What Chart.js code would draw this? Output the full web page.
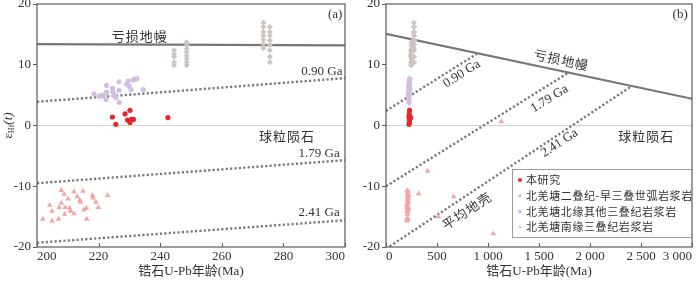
<!DOCTYPE html>
<html>
<head>
<meta charset="utf-8">
<script src="https://cdn.jsdelivr.net/npm/chart.js@4.4.0/dist/chart.umd.min.js"></script>
<style>
  html, body { margin: 0; padding: 0; background: #fff; }
  #wrap { position: relative; width: 700px; height: 281px; }
  .panel { position: absolute; top: 0; width: 350px; height: 281px; }
</style>
</head>
<body>
<div id="wrap">
  <div class="panel" style="left:0"><canvas id="chartA" width="350" height="281"></canvas></div>
  <div class="panel" style="left:350px"><canvas id="chartB" width="350" height="281"></canvas></div>
</div>
<script>
// 本研究
const studyAge = [224.5, 225.6, 228.6, 229.4, 230.2, 230.2, 230.7, 231.3, 242.5];
const studyHf  = [1.4, 0.2, 1.9, 0.9, 2.5, 0.5, 1.0, 1.0, 1.3];

// 北羌塘二叠纪-早三叠世弧岩浆岩
const arcAge = [244.5, 244.5, 244.5, 244.5, 244.5,
                248.6, 248.6, 248.6, 248.6, 248.6, 248.6, 248.6, 248.6,
                273.5, 273.5, 273.5, 273.5, 273.5, 273.5, 273.5,
                275.6, 275.6, 275.6, 275.6, 275.6, 275.6, 275.6, 275.6];
const arcHf  = [12.4, 11.7, 11.3, 10.4, 9.9,
                13.7, 13.2, 12.6, 12.1, 11.5, 11.0, 10.4, 9.9,
                16.9, 16.2, 15.4, 14.8, 14.1, 13.4, 12.7,
                16.2, 15.4, 14.8, 14.0, 13.3, 12.4, 11.3, 10.4];

// 北羌塘北缘其他三叠纪岩浆岩
const northAge = [218.5, 220.2, 220.8, 221.3, 222.3, 222.6, 222.4, 222.6, 224.5, 224.6, 225.2, 225.6,
                  226.6, 226.6, 226.7, 229.1, 229.6, 229.9, 230.5, 231.3, 231.8, 232.4, 234.5];
const northHf  = [5.2, 4.8, 4.9, 5.0, 5.2, 5.5, 4.3, 6.6, 6.1, 5.5, 5.0, 4.6,
                  7.2, 5.8, 3.8, 6.8, 7.3, 6.5, 5.9, 7.5, 7.6, 7.7, 5.9];

// 北羌塘南缘三叠纪岩浆岩
const southAge = [201.9, 204.1, 204.9, 204.9, 207.0, 207.2, 207.9, 207.9, 208.8, 209.0, 209.2, 210.1, 210.6, 210.9,
                  212.0, 212.0, 213.1, 213.9, 214.1, 214.9, 215.2, 216.0, 216.2, 218.0, 218.2, 219.1, 219.9, 222.9,
                  320, 407, 511, 662, 1052, 1131];
const southHf  = [-15.4, -13.1, -14.1, -15.7, -15.4, -13.5, -10.7, -12.8, -11.3, -14.6, -13.5, -12.1, -13.6, -14.1,
                  -10.9, -14.5, -11.7, -12.3, -12.6, -10.8, -13.9, -13.6, -15.4, -11.5, -11.9, -12.6, -13.5, -11.5,
                  -11.2, -7.5, -15.0, -11.7, -17.8, 0.65];

// reference lines (a): [age, εHf] end points
const dmA     = [[200, 13.4], [300, 13.2]];
const ga090A  = [[200, 3.9], [300, 7.8]];
const ga179A  = [[200, -9.5], [300, -5.7]];
const ga241A  = [[200, -19.3], [300, -15.6]];
const chondA  = [[200, 0], [300, 0]];

// reference lines (b)
const dmB     = [[0, 15.1], [3000, 4.4]];
const ga090B  = [[0, 2.4], [900, 11.9]];
const ga179B  = [[0, -10.0], [1790, 8.7]];
const ga241B  = [[0, -20.3], [2410, 6.5]];
const chondB  = [[0, 0], [3000, 0]];

const SERIF = "'Liberation Serif', 'Noto Sans CJK SC', serif";
const CJK = "'Noto Sans CJK SC', 'Liberation Serif', sans-serif";
const TXT = '#333';
const AXIS = '#5a5a5a';

const pts = (ages, hf) => ages.map((a, i) => ({ x: a, y: hf[i] }));
const seg = arr => arr.map(([x, y]) => ({ x, y }));

function pointSets() {
  return [
    { label: '本研究', data: pts(studyAge, studyHf), backgroundColor: '#e5282a',
      pointStyle: 'circle', pointRadius: 2.6, borderWidth: 0, order: 0 },
    { label: '北羌塘二叠纪-早三叠世弧岩浆岩', data: pts(arcAge, arcHf), backgroundColor: '#cdc5c1',
      pointStyle: 'rectRot', pointRadius: 3, borderWidth: 0, order: 1 },
    { label: '北羌塘北缘其他三叠纪岩浆岩', data: pts(northAge, northHf), backgroundColor: '#d3bfe2',
      pointStyle: 'circle', pointRadius: 2.6, borderWidth: 0, order: 1 },
    { label: '北羌塘南缘三叠纪岩浆岩', data: pts(southAge, southHf), backgroundColor: '#f6a3a3',
      pointStyle: 'triangle', pointRadius: 3.2, borderWidth: 0, order: 1 },
  ];
}

function lineSet(arr, kind) {
  const ds = { data: seg(arr), showLine: true, pointRadius: 0, fill: false, order: 5 };
  if (kind === 'dm') { ds.borderColor = '#777'; ds.borderWidth = 2.2; }
  if (kind === 'dot') { ds.borderColor = '#7a7a7a'; ds.borderWidth = 2.4; ds.borderDash = [2.2, 2.2]; ds.order = 4; }
  if (kind === 'chond') { ds.borderColor = '#d0d0d0'; ds.borderWidth = 1; ds.order = 6; }
  return ds;
}

// frame, inward x ticks, labels, legend, y title
const decor = {
  id: 'decor',
  afterDatasetsDraw(chart, args, opts) {
    const { ctx, chartArea: ca, scales: { x, y } } = chart;
    ctx.save();
    ctx.strokeStyle = AXIS;
    ctx.lineWidth = 1.2;
    ctx.strokeRect(ca.left, ca.top, ca.right - ca.left, ca.bottom - ca.top);
    // inward ticks on x
    ctx.lineWidth = 1;
    x.ticks.forEach(t => {
      const px = Math.round(x.getPixelForValue(t.value)) + 0.5;
      ctx.beginPath();
      ctx.moveTo(px, ca.bottom);
      ctx.lineTo(px, ca.bottom - 4);
      ctx.stroke();
    });

    // text labels
    ctx.fillStyle = TXT;
    ctx.textAlign = 'center';
    ctx.textBaseline = 'middle';
    (opts.labels || []).forEach(l => {
      const px = x.getPixelForValue(l.x), py = y.getPixelForValue(l.y);
      let ang = 0;
      if (l.along) {
        const [p0, p1] = l.along;
        const dx = x.getPixelForValue(p1[0]) - x.getPixelForValue(p0[0]);
        const dy = y.getPixelForValue(p1[1]) - y.getPixelForValue(p0[1]);
        ang = Math.atan2(dy, dx);
      }
      ctx.save();
      ctx.translate(px, py);
      ctx.rotate(ang);
      ctx.font = (l.size || 13) + 'px ' + (l.cjk ? CJK : SERIF);
      ctx.letterSpacing = l.cjk ? '1px' : '0px';
      ctx.fillText(l.text, 0, 0);
      ctx.restore();
    });

    // legend box
    if (opts.legend) {
      const lg = opts.legend;
      ctx.fillStyle = '#fff';
      ctx.fillRect(lg.left, lg.top, ca.right - lg.left, lg.height);
      ctx.strokeStyle = '#9a9a9a';
      ctx.lineWidth = 1;
      ctx.strokeRect(lg.left + 0.5, lg.top + 0.5, ca.right - lg.left - 1, lg.height);
      ctx.font = '11px ' + CJK;
      ctx.letterSpacing = '0.6px';
      ctx.textAlign = 'left';
      chart.data.datasets.filter(d => d.label).forEach((d, i) => {
        const cy = lg.top + 11 + i * 15.7;
        ctx.fillStyle = d.backgroundColor;
        Chart.helpers.drawPoint(ctx, { pointStyle: d.pointStyle, radius: 2, rotation: 0, borderWidth: 0 }, lg.left + 8, cy);
        ctx.fillStyle = TXT;
        ctx.fillText(d.label, lg.left + 14, cy);
      });
    }

    // y title εHf(t)
    if (opts.yTitle) {
      ctx.save();
      ctx.translate(9, y.getPixelForValue(0));
      ctx.rotate(-Math.PI / 2);
      ctx.fillStyle = TXT;
      ctx.textAlign = 'left';
      ctx.textBaseline = 'middle';
      ctx.letterSpacing = '0px';
      const big = '13px ' + SERIF, small = '8px ' + SERIF, it = 'italic 13px ' + SERIF;
      ctx.font = big; const w1 = ctx.measureText('ε').width;
      ctx.font = small; const w2 = ctx.measureText('Hf').width;
      ctx.font = it; const w3 = ctx.measureText('(t)').width;
      let sx = -(w1 + w2 + w3) / 2;
      ctx.font = big; ctx.fillText('ε', sx, 0); sx += w1;
      ctx.font = small; ctx.fillText('Hf', sx, 3); sx += w2;
      ctx.font = it; ctx.fillText('(t)', sx, 0);
      ctx.restore();
    }
    ctx.restore();
  }
};

function makeOptions(cfg) {
  return {
    responsive: false,
    animation: false,
    layout: { padding: { top: 0, right: cfg.padRight, left: 0, bottom: 0 } },
    plugins: {
      legend: { display: false },
      tooltip: { enabled: false },
      decor: cfg.decor
    },
    scales: {
      x: {
        type: 'linear', min: cfg.xMin, max: cfg.xMax,
        ticks: { stepSize: cfg.xStep, color: TXT, font: { family: SERIF, size: 13 }, padding: 2,
                 align: 'inner', maxRotation: 0, callback: cfg.xFmt },
        grid: { display: false, drawTicks: false },
        border: { display: false },
        title: { display: true, text: '锆石U-Pb年龄(Ma)', color: TXT,
                 font: { family: SERIF, size: 13 }, padding: { top: 0, bottom: 2 } },
        afterFit(s) { s.height = 34; s.paddingLeft = 0; s.paddingRight = 0; }
      },
      y: {
        type: 'linear', min: -20, max: 20,
        ticks: { stepSize: 10, color: TXT, font: { family: SERIF, size: 13 }, padding: 2 },
        grid: { drawOnChartArea: false, tickLength: 4, color: AXIS },
        border: { display: false },
        afterFit(s) { s.width = cfg.yWidth; s.paddingTop = 3; s.paddingBottom = 0; }
      }
    }
  };
}

// panel (a)
new Chart(document.getElementById('chartA'), {
  type: 'scatter',
  data: {
    datasets: [
      ...pointSets(),
      lineSet(dmA, 'dm'),
      lineSet(ga090A, 'dot'),
      lineSet(ga179A, 'dot'),
      lineSet(ga241A, 'dot'),
      lineSet(chondA, 'chond'),
    ]
  },
  options: makeOptions({
    xMin: 200, xMax: 300, xStep: 20, yWidth: 37, padRight: 5,
    decor: {
      yTitle: true,
      labels: [
        { text: '亏损地幔', x: 233.4, y: 14.8, cjk: true },
        { text: '(a)', x: 296.8, y: 18.3 },
        { text: '0.90 Ga', x: 292.5, y: 8.8 },
        { text: '球粒陨石', x: 281.2, y: -1.8, cjk: true },
        { text: '1.79 Ga', x: 291.6, y: -4.6 },
        { text: '2.41 Ga', x: 291.6, y: -14.4 },
      ]
    }
  }),
  plugins: [decor]
});

// panel (b)
new Chart(document.getElementById('chartB'), {
  type: 'scatter',
  data: {
    datasets: [
      ...pointSets(),
      lineSet(dmB, 'dm'),
      lineSet(ga090B, 'dot'),
      lineSet(ga179B, 'dot'),
      lineSet(ga241B, 'dot'),
      lineSet(chondB, 'chond'),
    ]
  },
  options: makeOptions({
    xMin: 0, xMax: 3000, xStep: 500, yWidth: 36, padRight: 8,
    xFmt: v => String(v).replace(/\B(?=(\d{3})+(?!\d))/g, ' '),
    decor: {
      legend: { left: 162, top: 169, height: 68 },
      labels: [
        { text: '(b)', x: 2884, y: 18.3 },
        { text: '亏损地幔', x: 1720, y: 10.8, cjk: true, along: dmB },
        { text: '0.90 Ga', x: 743, y: 8.5, along: ga090B },
        { text: '1.79 Ga', x: 1603, y: 4.4, along: ga179B },
        { text: '2.41 Ga', x: 1701, y: -2.9, along: ga241B },
        { text: '平均地壳', x: 792, y: -14.0, cjk: true, along: ga241B },
        { text: '球粒陨石', x: 2551, y: -1.8, cjk: true },
      ]
    }
  }),
  plugins: [decor]
});
</script>
</body>
</html>
